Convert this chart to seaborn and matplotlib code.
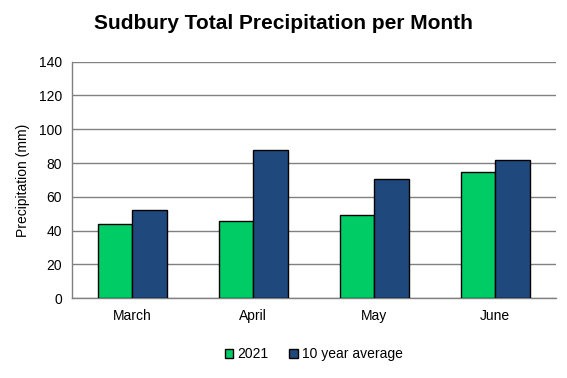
import pandas as pd
import numpy as np
import matplotlib.pyplot as plt
import seaborn as sns

sns.set_theme(style="white", rc={"text.color": "black", "axes.labelcolor": "black",
                                 "xtick.color": "black", "ytick.color": "black"})
plt.rcParams["font.family"] = ["Liberation Sans", "DejaVu Sans"]

months = ["March", "April", "May", "June"]
series_names = ["2021", "10 year average"]
precip_2021 = [43.8, 45.6, 49.1, 74.4]
precip_avg = [52.5, 87.6, 70.4, 81.7]
colors = ["#00CC66", "#1F497D"]

df = pd.DataFrame({
    "month": months * 2,
    "series": [series_names[0]] * 4 + [series_names[1]] * 4,
    "precip": precip_2021 + precip_avg,
})

fig = plt.figure(figsize=(5.67, 3.78), dpi=100)
ax = fig.add_axes([0.1264, 0.211, 0.8536, 0.626])

sns.barplot(data=df, x="month", y="precip", hue="series", palette=colors, width=0.57,
            edgecolor="black", linewidth=1.0, ax=ax, saturation=1, zorder=3)

ax.set_ylim(0, 140)
ax.set_yticks(range(0, 141, 20))
ax.set_xlim(-0.5, 3.5)
ax.set_xticks(range(4))
ax.set_xticks(np.arange(-0.5, 4, 1), minor=True)
ax.tick_params(axis="x", which="major", length=0, labelsize=10, pad=8, labelcolor="black")
ax.tick_params(axis="x", which="minor", length=4, width=1, color="#808080", direction="out")
ax.tick_params(axis="y", length=4, width=1, color="#808080", direction="out", labelsize=10, pad=3,
               labelcolor="black")
ax.grid(axis="y", color="#808080", linewidth=1, zorder=0)
for s in ["top", "right"]:
    ax.spines[s].set_visible(False)
for s in ["left", "bottom"]:
    ax.spines[s].set_color("#808080")
    ax.spines[s].set_linewidth(1)
ax.set_xlabel("")
ax.set_ylabel("Precipitation (mm)", fontsize=10, labelpad=6, color="black")

fig.suptitle("Sudbury Total Precipitation per Month", x=0.5, y=0.962, fontsize=15,
             fontweight="bold", color="black")
ax.legend(loc="upper center", bbox_to_anchor=(0.5, -0.155), ncol=2, frameon=False, fontsize=10,
          handlelength=0.6, handleheight=0.6, handletextpad=0.3, columnspacing=1.5,
          labelcolor="black")

plt.savefig("out.png", dpi=100)
plt.close()
